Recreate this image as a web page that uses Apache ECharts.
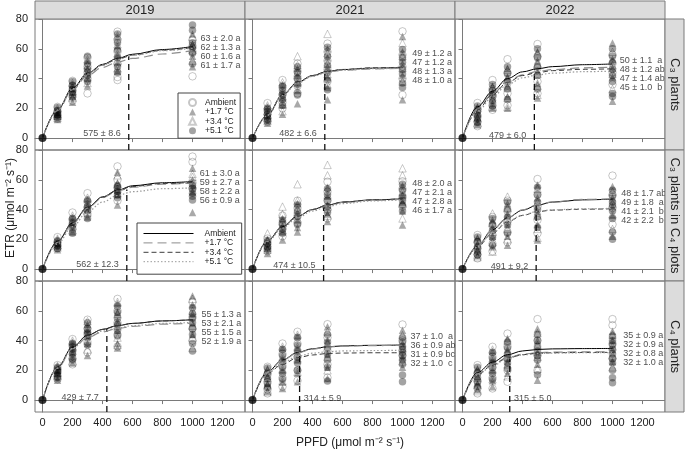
<!DOCTYPE html>
<html><head><meta charset="utf-8">
<script src="https://cdn.jsdelivr.net/npm/echarts@6.0.0/dist/echarts.min.js"></script>
<style>html,body{margin:0;padding:0;background:#fff}#c{width:685px;height:450px}</style>
</head><body><div id="c"></div>
<script>
const years = ['2019', '2021', '2022'];
const groups = ['C₃ plants', 'C₃ plants in C₄ plots', 'C₄ plants'];
const treatments = ['Ambient', '+1.7 °C', '+3.4 °C', '+5.1 °C'];
const ppfdLevels = [100, 200, 300, 500, 1000];
const originETR = 0;
const fitX = [0, 100, 200, 300, 400, 500, 600, 800, 1000];
const xTicks = [0, 200, 400, 600, 800, 1000, 1200];
const yTicks = [0, 20, 40, 60, 80];

// ---- measured ETR values, per PPFD level (100,200,300,500,1000) ----
const p11_amb = [[21,18,16,14,13],[38.5,35,32,29,25],[54,48,44,40,30],[71.5,66,58,50,41,39],[66,62,58,41.5]];
const p11_t17 = [[19,17,16,15,12.5],[36,33,31,28,24],[52,47,43,40,35],[68,62,56,51,45],[70,63,60,55,48]];
const p11_t34 = [[20,17.5,16.5,15,13.5],[37,34,31.5,30,27],[53,49,45,41,37],[69,63,57,52,47],[68,62.5,59,52]];
const p11_t51 = [[20.5,18.5,17,15.5,14],[38,35.5,33,30.5,27.5],[55,50,46,42,38],[70,64,59,54,48,44],[76,72.5,64,61,57,50]];

const p12_amb = [[23.5,19,16,13,11],[39,34,29,24,20],[50,45,40,35,30],[63.5,58,52,46,38],[71.7,56,48,40,29]];
const p12_t17 = [[21,17,15,12,10],[36,31,27,22,16],[47,42,37,32,23],[60,54,48,41,34,25.8],[68.3,58,50,42,25.8]];
const p12_t34 = [[22,18,15.5,13.5,11.5],[37.5,32,28,23,18],[55,49,44,38,33],[70,57,50,43,36],[63.9,55,47,38]];
const p12_t51 = [[20,18,16,14,12],[35,32,29,26,22],[48,44,40,36,29],[61,55,49,44,39,32.5],[59.5,54,51,46,43,37,34]];

const p13_amb = [[23.6,19,15,11,8],[39,33,28,22,19],[53,44,37,30,22],[63.2,55,47,38,30],[56,50,44,36]];
const p13_t17 = [[21,17,14,11,9],[35,31,27,23,20],[47,41,35,28,20],[58,52,45,37,27],[63.9,53,47,41,24.7]];
const p13_t34 = [[20,16.5,13.5,10],[34,30,26,21],[46,40,34,27,21],[57,50,43,35,29],[58,49,43,33]];
const p13_t51 = [[21.5,18,15.5,13,10.5],[36,32,29,25.5,21.5],[48,43,38,33,26],[60,54,48,42,33],[60,55,51,46,42,38,30,28]];

const p21_amb = [[21.5,18,16,14],[38,33,30,27],[51,45,41,37],[69,60,55,46],[75.6,72,58,54]];
const p21_t17 = [[20,17,15.5,13],[35,31,28,25],[47,43,40,35],[65,58,53,50,43],[67.7,60,56,52,38]];
const p21_t34 = [[20.5,17.5,16,14.5],[36,32,29,26],[48,44,41,38],[63,57,54,51],[64,62,57]];
const p21_t51 = [[19,17,16,14],[34,31,29,24],[46,42,39,34],[56,54,52,50,48],[56,54,51,49,46.4]];

const p22_amb = [[20.5,18,15,12],[36,31,27,22],[46,41,36,31],[58.7,52,46,40,34],[59,54,48,42]];
const p22_t17 = [[20,17,14,10.5],[34,29,25,19.5],[44,38,33,28,25],[55,49,43,37,32],[56,50,45,39,29.6]];
const p22_t34 = [[24,19,16,13],[42,37,32,26],[57,46,40,34],[70,63,50,42,36],[67.7,63,52,44,34]];
const p22_t51 = [[19,17,15,13],[33,30,27,24],[43,39,35,30],[54,50,46,42,38],[57,53,49,46,43,39]];

const p23_amb = [[22.9,18,14,10,7.2],[35,29,23,17,12],[46,39,32,25,18],[60.5,50,42,33,24],[62.8,50,41,30]];
const p23_t17 = [[21,17,13,9],[33,28,22,15],[44,37,30,22,16],[56.5,48,39,30,19.5],[55.4,48,42,36,22]];
const p23_t34 = [[20,16,12,8],[37.4,31,25,18,11.7],[48.7,41,34,27,20],[54,45,36,27,21],[52,44,37,27]];
const p23_t51 = [[21.5,18.5,15,12,9.5],[34,30,26,21,16],[45,40,35,30,24],[55,50,45,40,35,28],[53,49,45,43,39,34,25,20]];

const p31_amb = [[23.5,21,19,16,14],[41,37,33,28,24],[54,48,44,39,32],[68,60,52,44,36],[66,56,48,40]];
const p31_t17 = [[22.5,20,18,15,13.4],[39,35,32,29,25],[51,47,43,38,30],[65,59,53,47,38,35],[70,64,58,52,44]];
const p31_t34 = [[23,20.5,18.5,16.5],[40,36,33,30,26],[53,48,44,40,34],[66,58,50,42,37],[68,60,50,42,35]];
const p31_t51 = [[22,20,19,17,15],[38,36,34,31,27],[52,48,45,42,37],[63,59,55,51,47,43],[62,58,55,52,48,44,38,33]];

const p32_amb = [[22.4,17,12,7,4.5],[38,31,23,15,9],[45.9,38,29,20,13],[51,42,33,24,15],[50.8,40,30]];
const p32_t17 = [[21,16,11,6],[35,28,20,12,7.8],[43,35,27,18,12.3],[49.2,40,31,22,14.5],[47,38,29,22]];
const p32_t34 = [[20,15,10,5.5],[36,29,21,13],[44,36,28,19],[46,38,29,20],[43.6,35,26]];
const p32_t51 = [[21.5,18,14.5,11,8.5],[34,30,26,22,18,14],[42,37,33,29,25,20],[44,39,35,31,27,22,12.8],[42,39,36,34,32,30,27,24,16.8,12.3]];

const p33_amb = [[23.5,18,13,8,4.5],[35.8,29,22,15,7.8],[44.7,36,28,20,12.3],[54.4,40,30,20],[54.4,50.3,38,28]];
const p33_t17 = [[21,16,11,7],[33,27,20,13,9],[41.4,34,26,18],[48,40,32,24,13.4],[46.3,40,34,26]];
const p33_t34 = [[20,15,10,6],[34,28,21,14],[40,32,24,16],[45,37,29,21],[44,36,30,22]];
const p33_t51 = [[22,18.5,15,12,9],[32,28,25,22,18,14],[39,35,31,28,25,21],[44,40,36,33,30,27,17],[43,40,37,34,31,28,25,20,15,11.6]];

// ---- fitted light-response curves (values at fitX), order: Ambient, +1.7, +3.4, +5.1 ----
const p11_fits = [[0,19,33.5,43.5,49.5,53.5,56.3,59.5,61.5],[0,18.5,32.5,42,47.5,51,53.5,56.5,58.8],[0,19,33,43,49,53,55.8,59,60.8],[0,19,33,43,49,52.8,55.5,58.7,60.3]];
const p12_fits = [[0,15.5,29,37.5,42,44.8,46,47,47.3],[0,15.5,29,37.3,41.7,44.4,45.6,46.5,46.8],[0,15.5,29,37.5,42,44.8,46.1,47.2,47.6],[0,15.2,28.6,37,41.5,44.2,45.6,46.6,47]];
const p13_fits = [[0,21,31.5,40,44.5,46.6,48,49.3,49.8],[0,19.5,29.8,38,42.5,44.8,46,47.2,47.6],[0,19,29,37.5,42,44,45.3,46.2,46.5],[0,18,27.6,36,40.5,42.5,43.6,44.6,45]];
const p21_fits = [[0,18.5,31,41.5,48.5,53,56,58,58.8],[0,18,30.5,41,48,52.5,55,57,57.8],[0,18.3,31,41.5,48.3,52.7,55.5,57.5,58.2],[0,17,28.5,38.5,45,49.5,52,54,54.6]];
const p22_fits = [[0,19,28.5,35.5,40,43,45,46.5,47.2],[0,19,28.5,35.5,40,42.8,44.8,46.3,47],[0,19,28.5,35.5,40,43,45,46.5,47.3],[0,18.5,27.5,34.5,39,42,44,45.8,46.6]];
const p23_fits = [[0,15.5,26.5,34.5,39.5,43,45,46.5,47],[0,15.5,26.5,34.5,39.8,43.2,45.2,46.8,47.3],[0,15,24,31.8,36,38.6,39.6,40.2,40.5],[0,15,24.3,32,36.3,38.8,39.8,40.5,40.8]];
const p31_fits = [[0,22,35.5,43.5,47.5,50,51.5,53.2,54],[0,21.5,34.5,42,45.8,48,49.5,51,51.6],[0,22,35.5,43.5,47.5,50,51.5,53.2,54],[0,21.5,34.8,42.5,46.3,48.5,50,51.5,52.2]];
const p32_fits = [[0,19,27,32,34.5,35.8,36.4,36.8,37],[0,19,26.8,31.7,34.3,35.6,36.2,36.6,36.9],[0,18,24,28.5,30.3,31.3,31.6,31.8,31.8],[0,18.5,25,29.5,31.5,32.5,33,33.3,33.4]];
const p33_fits = [[0,18.5,25.5,30.5,33,34,34.4,34.6,34.7],[0,17.5,24,28.5,30.8,31.8,32.2,32.4,32.5],[0,17,23.5,28.3,30.5,31.4,31.8,32,32.1],[0,17,23,28,30.3,31.2,31.6,31.8,31.9]];

// ---- saturation irradiance (Ik) and curve value at Ik ----
const ikValues = [575, 482, 479, 562, 474, 491, 429, 314, 315];
const ikErr = ['8.6', '6.6', '6.0', '12.3', '10.5', '9.2', '7.7', '5.9', '5.0'];
const ikTop = [55, 44, 46, 53.5, 42.5, 43, 48, 31, 29];

// ---- ETRmax at 1000 (mean ± se, letters) ----
const p11_anno = ['63 ± 2.0 a', '62 ± 1.3 a', '60 ± 1.6 a', '61 ± 1.7 a'];
const p12_anno = ['49 ± 1.2 a', '47 ± 1.2 a', '48 ± 1.3 a', '48 ± 1.0 a'];
const p13_anno = ['50 ± 1.1  a', '48 ± 1.2 ab', '47 ± 1.4 ab', '45 ± 1.0  b'];
const p21_anno = ['61 ± 3.0 a', '59 ± 2.7 a', '58 ± 2.2 a', '56 ± 0.9 a'];
const p22_anno = ['48 ± 2.0 a', '47 ± 2.1 a', '47 ± 2.8 a', '46 ± 1.7 a'];
const p23_anno = ['48 ± 1.7 ab', '49 ± 1.8  a', '41 ± 2.1  b', '42 ± 2.2  b'];
const p31_anno = ['55 ± 1.3 a', '53 ± 2.1 a', '55 ± 1.5 a', '52 ± 1.9 a'];
const p32_anno = ['37 ± 1.0  a', '36 ± 0.9 ab', '31 ± 0.9 bc', '32 ± 1.0  c'];
const p33_anno = ['35 ± 0.9 a', '32 ± 0.9 a', '32 ± 0.8 a', '32 ± 1.0 a'];

// ---------------- layout / style (not data) ----------------
const panels = [
  {pts:[p11_amb,p11_t17,p11_t34,p11_t51], fits:p11_fits, anno:p11_anno},
  {pts:[p12_amb,p12_t17,p12_t34,p12_t51], fits:p12_fits, anno:p12_anno},
  {pts:[p13_amb,p13_t17,p13_t34,p13_t51], fits:p13_fits, anno:p13_anno},
  {pts:[p21_amb,p21_t17,p21_t34,p21_t51], fits:p21_fits, anno:p21_anno},
  {pts:[p22_amb,p22_t17,p22_t34,p22_t51], fits:p22_fits, anno:p22_anno},
  {pts:[p23_amb,p23_t17,p23_t34,p23_t51], fits:p23_fits, anno:p23_anno},
  {pts:[p31_amb,p31_t17,p31_t34,p31_t51], fits:p31_fits, anno:p31_anno},
  {pts:[p32_amb,p32_t17,p32_t34,p32_t51], fits:p32_fits, anno:p32_anno},
  {pts:[p33_amb,p33_t17,p33_t34,p33_t51], fits:p33_fits, anno:p33_anno}
];
const annoPos = [[1050,67.2],[1061,56.5],[1045,52],[1045,63.9],[1061,57.2],[1055,50.9],[1056,57.7],[1050,42.5],[1068,43.6]];
const ikLabelSide = ['left','left','left','left','left','left','left','right','right'];
const ikLabelY = [3,3,2,3,2.5,2,1.5,0.8,0.8];
const annoStep = 6.05;

const FONT = 'Liberation Sans, Arial, Helvetica, sans-serif';
const AX = '#7a7a7a';
const GL = 35, GT = 19, PW = 210, PH = 131;
const X_MIN = -50, X_MAX = 1350, Y_MIN = -8, Y_MAX = 80;

const ptStyles = [
  {symbol:'circle', size:7.5, itemStyle:{color:'rgba(255,255,255,0)', borderColor:'rgba(0,0,0,0.28)', borderWidth:1}},
  {symbol:'triangle', size:7.5, itemStyle:{color:'rgba(0,0,0,0.42)'}},
  {symbol:'triangle', size:7.5, itemStyle:{color:'rgba(255,255,255,0)', borderColor:'rgba(0,0,0,0.26)', borderWidth:1}},
  {symbol:'circle', size:7.5, itemStyle:{color:'rgba(0,0,0,0.45)'}}
];
const fitStyles = [
  {color:'#000', type:'solid', width:1},
  {color:'#8c8c8c', type:[9,5], width:1.2},
  {color:'#3c3c3c', type:[5,3], width:1},
  {color:'#9a9a9a', type:[1.5,2], width:1.2}
];

const grids = [], xAxes = [], yAxes = [], series = [];
panels.forEach((p, i) => {
  const r = Math.floor(i / 3), c = i % 3;
  grids.push({left: GL + c * PW, top: GT + r * PH, width: PW, height: PH, show: true, borderColor: AX, borderWidth: 1, containLabel: false});
  xAxes.push({type:'value', gridIndex:i, min:X_MIN, max:X_MAX,
    axisLine:{show:true, lineStyle:{color:AX}},
    axisTick:{show:true, inside:false, length:4, customValues:xTicks, lineStyle:{color:AX}},
    axisLabel:{show: r === 2, customValues:xTicks, formatter: v => String(v), fontSize:11, color:'#222', margin:5, fontFamily:FONT},
    splitLine:{show:false}});
  yAxes.push({type:'value', gridIndex:i, min:Y_MIN, max:Y_MAX,
    axisLine:{show:true, lineStyle:{color:AX}},
    axisTick:{show:true, inside:false, length:4, customValues:yTicks, lineStyle:{color:AX}},
    axisLabel:{show: c === 0, customValues:yTicks, formatter: v => String(v), fontSize:11, color:'#222', margin:7, fontFamily:FONT},
    splitLine:{show:false}});

  series.push({type:'line', name:'Ik', xAxisIndex:i, yAxisIndex:i, symbol:'none', silent:true, z:1,
    data:[[ikValues[i], Y_MIN], [ikValues[i], ikTop[i]]],
    lineStyle:{color:'#111', type:[6,4], width:1.3}});

  p.pts.forEach((arr, k) => {
    const data = [];
    arr.forEach((vals, j) => vals.forEach(v => data.push([ppfdLevels[j], v])));
    series.push({type:'scatter', name:treatments[k], xAxisIndex:i, yAxisIndex:i, data,
      symbol:ptStyles[k].symbol, symbolSize:ptStyles[k].size, itemStyle:ptStyles[k].itemStyle, silent:true, z:2});
  });
  series.push({type:'scatter', name:'origin', xAxisIndex:i, yAxisIndex:i, data:[[0, originETR]],
    symbolSize:8, itemStyle:{color:'#000'}, silent:true, z:4});

  p.fits.forEach((f, k) => {
    series.push({type:'line', name:treatments[k] + '_fit', xAxisIndex:i, yAxisIndex:i,
      data: fitX.map((x, j) => [x, f[j]]), symbol:'none', smooth:0.35, smoothMonotone:'x',
      itemStyle:{color:fitStyles[k].color},
      lineStyle:fitStyles[k], silent:true, z:3});
  });

  const ikx = ikLabelSide[i] === 'left' ? ikValues[i] - 50 : ikValues[i] + 25;
  series.push({type:'scatter', name:'iklabel', xAxisIndex:i, yAxisIndex:i, symbolSize:1,
    itemStyle:{color:'rgba(0,0,0,0)'}, silent:true, z:5,
    data:[{value:[ikx, ikLabelY[i]], name: ikValues[i] + ' ± ' + ikErr[i]}],
    label:{show:true, position:ikLabelSide[i], distance:0, formatter:'{b}', fontSize:9, color:'#222', fontFamily:FONT}});

  series.push({type:'scatter', name:'anno', xAxisIndex:i, yAxisIndex:i, symbolSize:1,
    itemStyle:{color:'rgba(0,0,0,0)'}, silent:true, z:5,
    data: p.anno.map((t, k) => ({value:[annoPos[i][0], annoPos[i][1] - k * annoStep], name:t})),
    label:{show:true, position:'right', distance:0, formatter:'{b}', fontSize:9, color:'#222', fontFamily:FONT}});
});

const graphic = [];
years.forEach((y, c) => {
  graphic.push({type:'rect', shape:{x:GL + c * PW, y:1, width:PW, height:GT - 1}, style:{fill:'#dcdcdc', stroke:AX, lineWidth:1}, z:10});
  graphic.push({type:'text', x:GL + c * PW + PW / 2, y:(GT + 1) / 2 + 0.5, style:{text:y, fontSize:13, fill:'#222', align:'center', verticalAlign:'middle', fontFamily:FONT}, z:11});
});
groups.forEach((g, r) => {
  const sx = GL + 3 * PW;
  graphic.push({type:'rect', shape:{x:sx, y:GT + r * PH, width:19, height:PH}, style:{fill:'#dcdcdc', stroke:AX, lineWidth:1}, z:10});
  graphic.push({type:'text', x:sx + 10, y:GT + r * PH + PH / 2, rotation:-Math.PI / 2,
    style:{text:g, fontSize:13, fill:'#222', align:'center', verticalAlign:'middle', fontFamily:FONT}, z:11});
});
graphic.push({type:'text', x:11, y:208, rotation:Math.PI / 2,
  style:{text:'ETR (μmol m⁻² s⁻¹)', fontSize:12, fill:'#222', align:'center', verticalAlign:'middle', fontFamily:FONT}});
graphic.push({type:'text', x:350, y:443,
  style:{text:'PPFD (μmol m⁻² s⁻¹)', fontSize:12, fill:'#222', align:'center', verticalAlign:'middle', fontFamily:FONT}});

const option = {
  animation:false,
  backgroundColor:'#fff',
  textStyle:{fontFamily:FONT},
  grid:grids, xAxis:xAxes, yAxis:yAxes, series, graphic,
  legend:[
    {data:treatments, left:178, top:93, orient:'vertical', itemWidth:7, itemHeight:7, itemGap:0.4,
     padding:[5,4,3,10], borderColor:'#444', borderWidth:1, backgroundColor:'#fff', selectedMode:false,
     textStyle:{fontSize:8.5, color:'#222', lineHeight:9, padding:[0,0,0,4], fontFamily:FONT}, z:20},
    {data:treatments.map(t => t + '_fit'), formatter:n => n.replace('_fit',''), left:137, top:223, orient:'vertical',
     itemWidth:50, itemHeight:8, itemGap:0.4, padding:[6,6,8,6], borderColor:'#444', borderWidth:1,
     backgroundColor:'#fff', selectedMode:false, itemStyle:{opacity:0, borderWidth:0},
     lineStyle:{width:1},
     textStyle:{fontSize:8.5, color:'#222', lineHeight:9, padding:[0,0,0,6], fontFamily:FONT}, z:20}
  ]
};
const chart = echarts.init(document.getElementById('c'), null, {renderer:'canvas'});
chart.setOption(option);
</script></body></html>
